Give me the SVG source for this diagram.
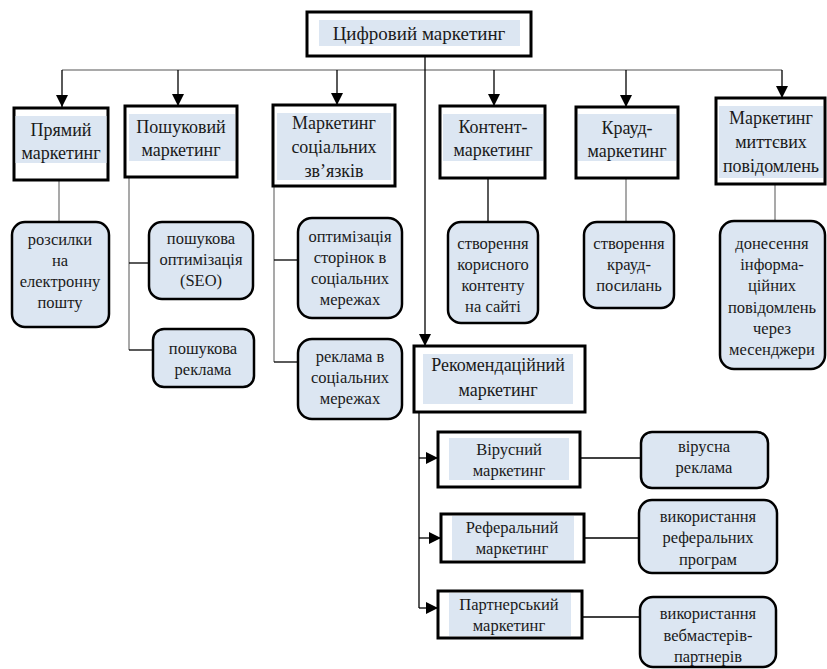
<svg xmlns="http://www.w3.org/2000/svg" width="827" height="669" viewBox="0 0 827 669" font-family="Liberation Serif, DejaVu Serif, serif">
<defs>
<style>
.box{fill:#fff;stroke:#000;stroke-width:3}
.hl{fill:#dce6f2}
.rb{fill:#dce6f2;stroke:#000;stroke-width:2.5}
text{fill:#1a1a1a;text-anchor:middle}
.t{font-size:18px}
.s{font-size:16.5px}
.g{stroke:#8c8c8c;stroke-width:1.5;fill:none}
.k{stroke:#000;stroke-width:1.3;fill:none}
.a{stroke:#000;stroke-width:1.3;fill:none;marker-end:url(#ar)}
</style>
<marker id="ar" markerUnits="userSpaceOnUse" markerWidth="14" markerHeight="14" refX="12" refY="6" orient="auto">
<path d="M0,0 L12,6 L0,12 Z" fill="#000"/>
</marker>
</defs>

<g id="connectors">
<path class="g" d="M62,70 H782"/>
<path class="a" d="M62,70 V107"/>
<path class="a" d="M178,70 V106"/>
<path class="a" d="M337,70 V105"/>
<path class="a" d="M494,70 V106"/>
<path class="a" d="M626,70 V107"/>
<path class="a" d="M782,70 V98"/>
<path class="a" d="M425,56 V346"/>
<path class="g" d="M59,180 V221"/>
<path class="g" d="M129,177 V350"/>
<path class="k" d="M129,263 H149"/>
<path class="k" d="M129,350 H153"/>
<path class="g" d="M274,186 V362"/>
<path class="k" d="M274,260 H298"/>
<path class="k" d="M274,362 H298"/>
<path class="k" d="M488,178 V222"/>
<path class="g" d="M626,178 V222"/>
<path class="g" d="M775,184 V221"/>
<path class="k" d="M419,412 V608"/>
<path class="a" d="M419,458 H438"/>
<path class="a" d="M419,538 H441"/>
<path class="a" d="M419,608 H438"/>
<path class="k" d="M580,458 H641"/>
<path class="k" d="M584,538 H639"/>
<path class="k" d="M582,617 H640"/>
</g>

<g id="digital">
<rect class="box" x="307" y="12" width="224" height="44"/>
<rect class="hl" x="319" y="20" width="201" height="26"/>
<text x="419" y="40" font-family="Liberation Serif" style="font-size:19px">Цифровий маркетинг</text>
</g>

<g id="direct">
<rect class="box" x="14" y="108" width="94" height="72"/>
<rect class="hl" x="15.5" y="116" width="91" height="47"/>
<text class="t" x="61" y="136">Прямий</text>
<text class="t" x="61" y="159">маркетинг</text>
</g>

<g id="search">
<rect class="box" x="125" y="106" width="112" height="71"/>
<rect class="hl" x="129" y="114" width="106" height="47"/>
<text class="t" x="181" y="133">Пошуковий</text>
<text class="t" x="181" y="156">маркетинг</text>
</g>

<g id="social">
<rect class="box" x="273" y="105" width="122" height="81"/>
<rect class="hl" x="277" y="113" width="114" height="67"/>
<text class="t" x="334" y="129">Маркетинг</text>
<text class="t" x="334" y="153">соціальних</text>
<text class="t" x="334" y="177">зв’язків</text>
</g>

<g id="content">
<rect class="box" x="440" y="106" width="105" height="72"/>
<rect class="hl" x="443" y="114" width="100" height="47"/>
<text class="t" x="493" y="133">Контент-</text>
<text class="t" x="493" y="156">маркетинг</text>
</g>

<g id="crowd">
<rect class="box" x="576" y="107" width="102" height="71"/>
<rect class="hl" x="578" y="114" width="98" height="47"/>
<text class="t" x="627" y="134">Крауд-</text>
<text class="t" x="627" y="157">маркетинг</text>
</g>

<g id="instant">
<rect class="box" x="716" y="98" width="109" height="86"/>
<rect class="hl" x="719" y="106" width="104" height="72"/>
<text class="t" x="771" y="124">Маркетинг</text>
<text class="t" x="771" y="148">миттєвих</text>
<text class="t" x="771" y="172">повідомлень</text>
</g>

<g id="email">
<rect class="rb" x="12" y="222" width="97" height="105" rx="13"/>
<text class="s" x="60" y="245">розсилки</text>
<text class="s" x="60" y="266">на</text>
<text class="s" x="60" y="287">електронну</text>
<text class="s" x="60" y="308">пошту</text>
</g>

<g id="seo">
<rect class="rb" x="149" y="222" width="104" height="77" rx="13"/>
<text class="s" x="201" y="244">пошукова</text>
<text class="s" x="201" y="265">оптимізація</text>
<text class="s" x="201" y="286">(SEO)</text>
</g>

<g id="searchads">
<rect class="rb" x="153" y="329" width="101" height="58" rx="11"/>
<text class="s" x="203" y="354">пошукова</text>
<text class="s" x="203" y="375">реклама</text>
</g>

<g id="smo">
<rect class="rb" x="298" y="218" width="104" height="100" rx="14"/>
<text class="s" x="350" y="242">оптимізація</text>
<text class="s" x="350" y="263">сторінок в</text>
<text class="s" x="350" y="284">соціальних</text>
<text class="s" x="350" y="305">мережах</text>
</g>

<g id="smads">
<rect class="rb" x="298" y="339" width="104" height="80" rx="14"/>
<text class="s" x="350" y="362">реклама в</text>
<text class="s" x="350" y="383">соціальних</text>
<text class="s" x="350" y="404">мережах</text>
</g>

<g id="usefulcontent">
<rect class="rb" x="448" y="222" width="90" height="101" rx="13"/>
<text class="s" x="493" y="249">створення</text>
<text class="s" x="493" y="270">корисного</text>
<text class="s" x="493" y="291">контенту</text>
<text class="s" x="493" y="312">на сайті</text>
</g>

<g id="crowdlinks">
<rect class="rb" x="584" y="222" width="90" height="86" rx="13"/>
<text class="s" x="629" y="249">створення</text>
<text class="s" x="629" y="270">крауд-</text>
<text class="s" x="629" y="291">посилань</text>
</g>

<g id="messengers">
<rect class="rb" x="720" y="221" width="105" height="148" rx="14"/>
<text class="s" x="772" y="249">донесення</text>
<text class="s" x="772" y="270">інформа-</text>
<text class="s" x="772" y="291">ційних</text>
<text class="s" x="772" y="313">повідомлень</text>
<text class="s" x="772" y="334">через</text>
<text class="s" x="772" y="355">месенджери</text>
</g>

<g id="recommend">
<rect class="box" x="414" y="346" width="171" height="66"/>
<rect class="hl" x="423" y="354" width="150" height="50"/>
<text class="t" x="498" y="371">Рекомендаційний</text>
<text class="t" x="498" y="396">маркетинг</text>
</g>

<g id="viral">
<rect class="box" x="438" y="432" width="142" height="55"/>
<rect class="hl" x="449" y="438" width="120" height="42"/>
<text class="s" x="509" y="455">Вірусний</text>
<text class="s" x="509" y="476">маркетинг</text>
</g>

<g id="viralads">
<rect class="rb" x="641" y="432" width="127" height="56" rx="11"/>
<text class="s" x="704" y="452">вірусна</text>
<text class="s" x="704" y="473">реклама</text>
</g>

<g id="referral">
<rect class="box" x="441" y="514" width="143" height="48"/>
<rect class="hl" x="452" y="516" width="122" height="44"/>
<text class="s" x="512" y="533">Реферальний</text>
<text class="s" x="512" y="554">маркетинг</text>
</g>

<g id="refprog">
<rect class="rb" x="639" y="500" width="138" height="73" rx="13"/>
<text class="s" x="708" y="522">використання</text>
<text class="s" x="708" y="543">реферальних</text>
<text class="s" x="708" y="565">програм</text>
</g>

<g id="partner">
<rect class="box" x="438" y="591" width="144" height="47"/>
<rect class="hl" x="449" y="593" width="122" height="43"/>
<text class="s" x="509" y="610">Партнерський</text>
<text class="s" x="509" y="631">маркетинг</text>
</g>

<g id="webmasters">
<rect class="rb" x="640" y="597" width="136" height="70" rx="13"/>
<text class="s" x="708" y="619">використання</text>
<text class="s" x="708" y="641">вебмастерів-</text>
<text class="s" x="708" y="662">партнерів</text>
</g>
</svg>
